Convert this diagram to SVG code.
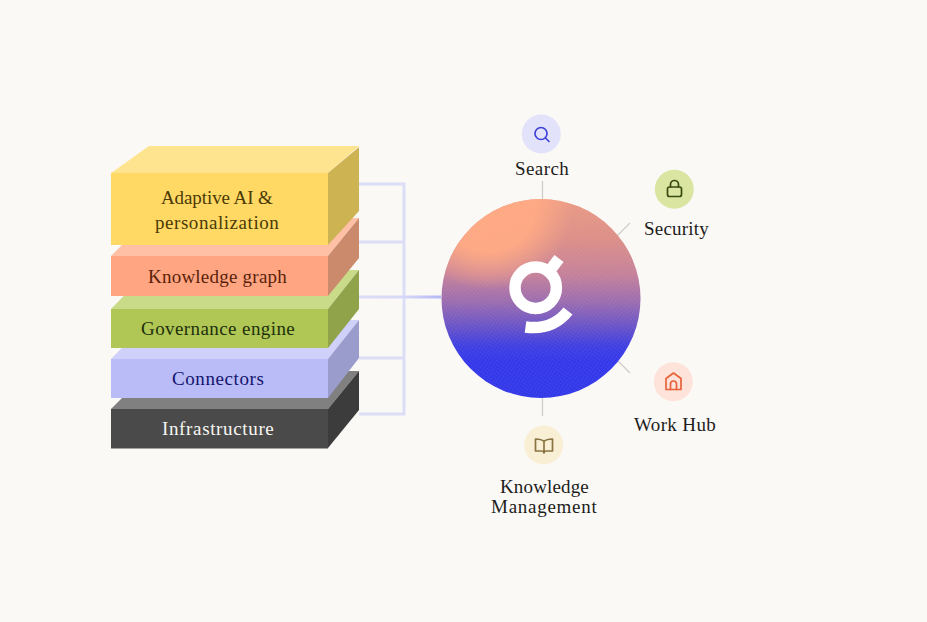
<svg xmlns="http://www.w3.org/2000/svg" width="927" height="622" viewBox="0 0 927 622">
<style>
text{font-family:"Liberation Serif","Times New Roman",serif;font-size:19px;letter-spacing:.2px}
.lab{fill:#1d1d1b}
.conn{fill:none;stroke:#dcddf6;stroke-width:3}
.spoke{stroke:#cfcdc8;stroke-width:1.3;fill:none}
.ic{fill:none;stroke-width:1.7;stroke-linecap:round;stroke-linejoin:round}
</style>
<defs>
<linearGradient id="orb" x1="0" y1="0" x2="0" y2="1">
<stop offset="0" stop-color="#ea9a84"/><stop offset=".2" stop-color="#dc8f88"/><stop offset=".38" stop-color="#c5819a"/><stop offset=".52" stop-color="#9a6cb0"/><stop offset=".64" stop-color="#6a54c8"/><stop offset=".74" stop-color="#3f3fe2"/><stop offset=".82" stop-color="#3438ea"/><stop offset="1" stop-color="#3338e8"/>
</linearGradient>
<radialGradient id="glow" gradientUnits="userSpaceOnUse" cx="488" cy="205" r="85">
<stop offset="0" stop-color="#ffa983"/><stop offset=".55" stop-color="#ffa983" stop-opacity=".95"/><stop offset="1" stop-color="#ffa983" stop-opacity="0"/>
</radialGradient>
<pattern id="dots" width="3" height="3" patternUnits="userSpaceOnUse" patternTransform="rotate(35)">
<circle cx="1.5" cy="1.5" r=".7" fill="#ffffff" fill-opacity=".1"/>
</pattern>
<linearGradient id="trunk" gradientUnits="userSpaceOnUse" x1="359" y1="0" x2="441" y2="0">
<stop offset="0" stop-color="#dcddf6"/><stop offset=".55" stop-color="#d6d8f7"/><stop offset="1" stop-color="#b4b8f5"/>
</linearGradient>
</defs>
<rect width="927" height="622" fill="#fbf9f6"/>
<g id="connectors">
<path class="conn" d="M359 184H404V414H359M359 242H404M359 358H404"/>
<path d="M359 297H441" fill="none" stroke="url(#trunk)" stroke-width="3"/>
<path class="spoke" d="M542.500 181V199M630 223L617 236M630 373L618 361M542.500 398V416"/>
</g>
<g id="layer-infrastructure">
<path d="M111 409L149 371H359L328 409Z" fill="#808080"/>
<path d="M328 409L359 371V410L328 448Z" fill="#3c3c3c"/>
<rect x="111" y="409" width="217" height="39.500" fill="#4a4a4a"/>
<text x="162" y="435" textLength="112" fill="#f7f6f2">Infrastructure</text>
</g>
<g id="layer-connectors">
<path d="M111 359L149 320H359L328 359Z" fill="#cfd1fb"/>
<path d="M328 359L359 320V358L328 398Z" fill="#9a9ccb"/>
<rect x="111" y="359" width="217" height="39" fill="#b9bcf6"/>
<text x="172" y="385" textLength="92" fill="#14146e">Connectors</text>
</g>
<g id="layer-governance">
<path d="M111 309L149 270H359L328 309Z" fill="#c9da89"/>
<path d="M328 309L359 270V309L328 348Z" fill="#90a34a"/>
<rect x="111" y="309" width="217" height="39" fill="#b0c756"/>
<text x="141" y="335" textLength="154" fill="#20300a">Governance engine</text>
</g>
<g id="layer-knowledge">
<path d="M111 256L149 218H359L328 256Z" fill="#ffc0a5"/>
<path d="M328 256L359 218V258L328 296Z" fill="#cc8a6c"/>
<rect x="111" y="256" width="217" height="40" fill="#ffa582"/>
<text x="148" y="283" textLength="139" fill="#5a1f0a">Knowledge graph</text>
</g>
<g id="layer-adaptive">
<path d="M111 173L149 146H359L328 173Z" fill="#ffe48f"/>
<path d="M328 173L359 147V211L328 245Z" fill="#cdb352"/>
<rect x="111" y="173" width="217" height="72" fill="#ffd964"/>
<text x="161" y="204" textLength="112" fill="#4a3a05">Adaptive AI &amp;</text>
<text x="155" y="229" textLength="124" fill="#4a3a05">personalization</text>
</g>
<g id="hub">
<circle cx="541" cy="298.500" r="99.500" fill="url(#orb)"/>
<circle cx="541" cy="298.500" r="99.500" fill="url(#glow)"/>
<circle cx="541" cy="298.500" r="99.500" fill="url(#dots)"/>
<circle cx="535.700" cy="287.700" r="20.700" fill="none" stroke="#fff" stroke-width="11.500"/>
<path d="M551 269L559 258.500" fill="none" stroke="#fff" stroke-width="11.500"/>
<path d="M525.500 327C540 329 556 326 568 311" fill="none" stroke="#fff" stroke-width="11.500"/>
</g>
<g id="search">
<circle cx="541.300" cy="134" r="19.500" fill="#e2e3fb"/>
<circle cx="541" cy="133.500" r="6" class="ic" stroke="#3f42d6"/>
<path d="M545.500 138L549 141.500" class="ic" stroke="#3f42d6"/>
<text class="lab" x="515" y="175" textLength="54">Search</text>
</g>
<g id="security">
<circle cx="674.300" cy="189.300" r="19.500" fill="#d9e5a0"/>
<rect x="667.500" y="187" width="14" height="9.500" rx="2" class="ic" stroke="#3a4a10"/>
<path d="M670.500 187V184.500A4 4 0 0 1 678.500 184.500V187" class="ic" stroke="#3a4a10"/>
<text class="lab" x="644" y="235" textLength="65">Security</text>
</g>
<g id="work-hub">
<circle cx="673.300" cy="381.700" r="19.500" fill="#fde3d9"/>
<path d="M666 378.500L673.500 373L681 378.500V389.500H666Z" class="ic" stroke="#e8623a"/>
<path d="M670.500 389.500V384A3 3 0 0 1 676.500 384V389.500" class="ic" stroke="#e8623a"/>
<text class="lab" x="634" y="431" textLength="82">Work Hub</text>
</g>
<g id="knowledge-management">
<circle cx="543.700" cy="445" r="19.500" fill="#f8efd4"/>
<path d="M544 441.500C542 439.500 539 439 535.500 439V451H541C542.500 451 544 451.500 544 453C544 451.500 545.500 451 547 451H552.500V439C549 439 546 439.500 544 441.500V453" class="ic" stroke="#8a7444"/>
<text class="lab" x="500" y="493" textLength="89">Knowledge</text>
<text class="lab" x="491" y="513" textLength="106">Management</text>
</g>
</svg>
